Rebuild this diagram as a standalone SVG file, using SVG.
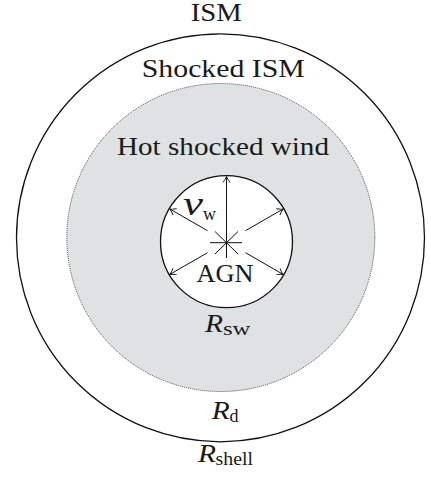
<svg xmlns="http://www.w3.org/2000/svg" width="431" height="479" viewBox="0 0 431 479">
<style>
text{font-family:"Liberation Serif","DejaVu Serif",serif;fill:#1a1a1a}
.lbl{font-size:25px}
.it{font-style:italic}
.sub{font-size:18px}
.arr{stroke:#111;stroke-width:1;fill:none}
</style>
<defs>
<marker id="ah" markerUnits="userSpaceOnUse" markerWidth="12" markerHeight="12" viewBox="-7 -6 8 12" refX="0" refY="0" orient="auto">
<path d="M-6,-3.6 Q-2.5,-0.8 0,0 Q-2.5,0.8 -6,3.6" stroke="#111" stroke-width="0.9" fill="none"/>
</marker>
</defs>
<rect width="431" height="479" fill="#fff"/>
<g id="ism-shell">
<circle cx="220.5" cy="237.8" r="204" fill="none" stroke="#111" stroke-width="1.3"/>
</g>
<g id="hot-shocked-wind">
<circle cx="220.8" cy="237.5" r="154" fill="#dfe2e2" stroke="#333" stroke-width="0.9" stroke-dasharray="1 1"/>
</g>
<g id="agn-region">
<circle cx="226.5" cy="241.7" r="66" fill="#fff" stroke="#111" stroke-width="1.3"/>
</g>
<g id="connectors">
<line class="arr" x1="226.5" y1="258" x2="226.5" y2="176.5" marker-end="url(#ah)"/>
<line class="arr" x1="245.5" y1="230.7" x2="283.3" y2="208.9" marker-end="url(#ah)"/>
<line class="arr" x1="207.5" y1="230.7" x2="169.7" y2="208.9" marker-end="url(#ah)"/>
<line class="arr" x1="207.5" y1="252.7" x2="169.7" y2="274.5" marker-end="url(#ah)"/>
<line class="arr" x1="245.5" y1="252.7" x2="283.3" y2="274.5" marker-end="url(#ah)"/>
<g class="arr">
<line x1="210" y1="242.7" x2="242" y2="242.7"/>
<line x1="215" y1="231.5" x2="238" y2="254"/>
<line x1="215" y1="254" x2="238" y2="231.5"/>
</g>
</g>
<g id="labels">
<text class="lbl" x="216.2" y="20.7" text-anchor="middle" textLength="51" lengthAdjust="spacingAndGlyphs">ISM</text>
<text class="lbl" x="223.3" y="77.3" text-anchor="middle" textLength="163" lengthAdjust="spacingAndGlyphs">Shocked ISM</text>
<text class="lbl" x="223" y="155" text-anchor="middle" textLength="212" lengthAdjust="spacingAndGlyphs">Hot shocked wind</text>
<text class="lbl" x="225" y="281.7" text-anchor="middle" textLength="57" lengthAdjust="spacingAndGlyphs">AGN</text>
<text class="it" x="183" y="215" font-size="34" textLength="20" lengthAdjust="spacingAndGlyphs">v</text>
<text class="sub" x="203" y="220" font-size="20" textLength="13" lengthAdjust="spacingAndGlyphs">w</text>
<text class="lbl it" x="205" y="331.7" textLength="18" lengthAdjust="spacingAndGlyphs">R</text>
<text class="sub" x="223" y="335.2" textLength="27.5" lengthAdjust="spacingAndGlyphs">sw</text>
<text class="lbl it" x="211.7" y="418.8" textLength="18" lengthAdjust="spacingAndGlyphs">R</text>
<text class="sub" x="229.5" y="421.5">d</text>
<text class="lbl it" x="198" y="461.7" textLength="18" lengthAdjust="spacingAndGlyphs">R</text>
<text class="sub" x="215.5" y="465.2" textLength="37.5" lengthAdjust="spacingAndGlyphs">shell</text>
</g>
</svg>
